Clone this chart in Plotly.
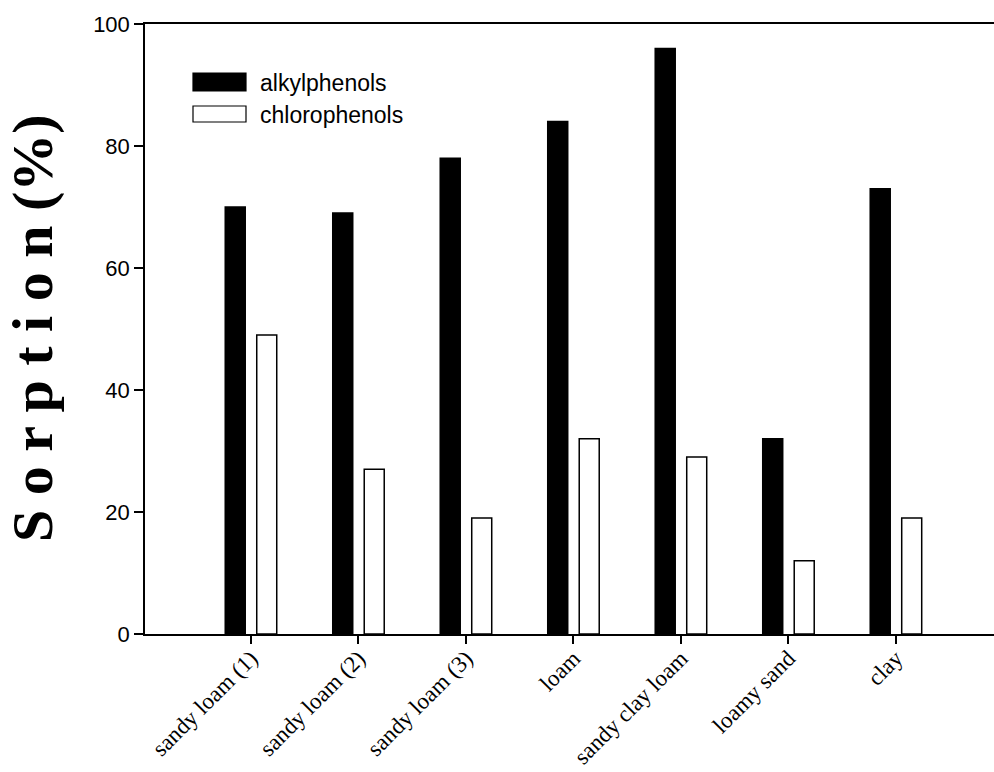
import plotly.graph_objects as go

categories = ["sandy loam (1)", "sandy loam (2)", "sandy loam (3)", "loam",
              "sandy clay loam", "loamy sand", "clay"]
series_names = ["alkylphenols", "chlorophenols"]
alkylphenols = [70, 69, 78, 84, 96, 32, 73]
chlorophenols = [49, 27, 19, 32, 29, 12, 19]
y_ticks = [0, 20, 40, 60, 80, 100]

W, H = 994, 772
L, R, T, B = 145, 0, 24, 138
pw, ph = W - L - R, H - T - B

def px_x(p):
    return (p - L) / pw

def px_y(p):
    return (H - B - p) / ph

fig = go.Figure()
fig.add_trace(go.Bar(x=categories, y=alkylphenols, name=series_names[0],
                     marker=dict(color="black", line=dict(color="black", width=1.5)),
                     showlegend=False))
fig.add_trace(go.Bar(x=categories, y=chlorophenols, name=series_names[1],
                     marker=dict(color="white", line=dict(color="black", width=1.5)),
                     showlegend=False))

serif = "Liberation Serif, Times New Roman, serif"
sans = "Liberation Sans, Arial, sans-serif"

fig.update_layout(
    width=W, height=H,
    margin=dict(l=L, r=R, t=T, b=B, autoexpand=False),
    paper_bgcolor="white", plot_bgcolor="white",
    barmode="group", bargap=0.414, bargroupgap=0.365,
    xaxis=dict(
        type="category", range=[-0.986, 6.912], automargin=False,
        showline=True, linecolor="black", linewidth=1.5, mirror=True,
        ticks="outside", ticklen=8, tickwidth=1.5, tickcolor="black",
        tickangle=-45, tickfont=dict(family=serif, size=23, color="black"),
        ticklabelstandoff=-8,
        showgrid=False, zeroline=False,
    ),
    yaxis=dict(
        range=[0, 100], tickvals=y_ticks, automargin=False,
        showline=True, linecolor="black", linewidth=1.5,
        ticks="outside", ticklen=9, tickwidth=1.5, tickcolor="black",
        tickfont=dict(family=sans, size=22, color="black"),
        showgrid=False, zeroline=False,
    ),
)

# y-axis title (bold serif, letter-spaced)
fig.add_annotation(
    text="<b>S o r p t i o n (%)</b>", xref="paper", yref="paper",
    x=px_x(32), y=px_y(328), xanchor="center", yanchor="middle",
    textangle=-90, showarrow=False,
    font=dict(family=serif, size=58, color="black"),
)

# custom legend
fills = ["black", "white"]
sw_y = [(73, 91), (106, 122)]
txt_y = [83, 115]
for name, fill, (y0, y1), ty in zip(series_names, fills, sw_y, txt_y):
    fig.add_shape(type="rect", xref="paper", yref="paper",
                  x0=px_x(193), x1=px_x(246), y0=px_y(y1), y1=px_y(y0),
                  fillcolor=fill, line=dict(color="black", width=1.2))
    fig.add_annotation(text=name, xref="paper", yref="paper",
                       x=px_x(258), y=px_y(ty), xanchor="left", yanchor="middle",
                       showarrow=False,
                       font=dict(family=sans, size=23, color="black"))

fig.write_html(
    "out.html",
    config={"displayModeBar": False},
    post_script="document.body.style.margin='0';document.body.style.overflow='hidden';",
)
